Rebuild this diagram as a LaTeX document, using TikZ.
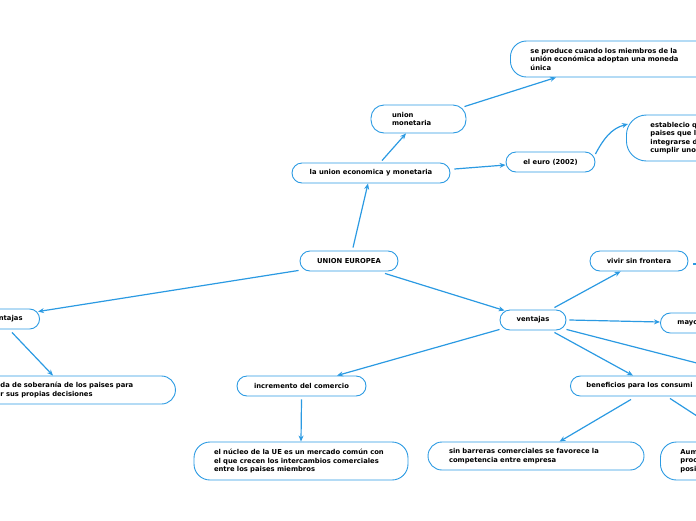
\documentclass[tikz,border=0pt]{standalone}
\usepackage{fontspec}
\setmainfont{DejaVu Sans}
\usetikzlibrary{arrows.meta}
\definecolor{lc}{HTML}{2B9AE2}
\tikzset{
 box/.style={draw=lc, line width=0.9pt, rounded corners=10pt, font=\fontsize{6.8}{8.5}\selectfont\bfseries, text=black, inner ysep=2pt, minimum height=20pt},
 tall/.style={box, rounded corners=16pt, align=left},
 conn/.style={draw=lc, line width=1.2pt, -{Stealth[length=6pt,width=5pt]}},
}
\begin{document}
\begin{tikzpicture}[x=1pt,y=-1pt]
\useasboundingbox (0,0) rectangle (696,520);
\clip (0,0) rectangle (696,520);
% nodes
\node[box, minimum width=98pt] (ue) at (349,261) {UNION EUROPEA};
\node[box, minimum width=158pt] (eco) at (371,173) {la union economica y monetaria};
\node[tall, rounded corners=13pt, minimum height=28pt, text width=53pt, inner xsep=21pt] (um) at (418.5,119) {union\\monetaria};
\node[tall, anchor=west, minimum height=36pt, text width=200pt, inner xsep=20pt] (sp) at (510,59) {se produce cuando los miembros de la\\unión económica adoptan una moneda\\única};
\node[box, minimum width=89pt] (euro) at (550.5,162) {el euro (2002)};
\node[tall, rounded corners=20pt, anchor=west, minimum height=46pt, text width=80pt, inner xsep=24pt] (est) at (626,138) {establecio q\\paises que l\\integrarse d\\cumplir uno};
\node[box, minimum width=98pt] (viv) at (639,261) {vivir sin frontera};
\node[box, minimum width=66pt] (ven) at (533,320) {ventajas};
\node[box, anchor=west, text width=60pt, align=left, inner xsep=17pt] (may) at (660,323) {mayo};
\node[box, anchor=west, text width=150pt, align=left, inner xsep=16pt] (ben) at (570,386) {beneficios para los consumi};
\node[tall, rounded corners=14pt, minimum height=28pt, text width=174pt, inner xsep=21pt] (sin) at (536,456) {sin barreras comerciales se favorece la\\competencia entre empresa};
\node[tall, anchor=west, minimum height=38pt, text width=60pt, inner xsep=20pt] (aum) at (660,461) {Aum\\proc\\posi};
\node[box, minimum width=129pt] (inc) at (301.5,386) {incremento del comercio};
\node[tall, minimum height=38pt, text width=174pt, inner xsep=20pt] (nuc) at (301,461) {el núcleo de la UE es un mercado común con\\el que crecen los intercambios comerciales\\entre los paises miembros};
\node[box, anchor=east, text width=40pt, align=right, inner xsep=17pt] (des) at (40,319) {ntajas};
\node[tall, rounded corners=14pt, anchor=west, minimum height=28pt, text width=155pt, inner xsep=20pt] (sob) at (-20,390) {da de soberanía de los paises para\\r sus propias decisiones};
% off-picture ends
\coordinate (off1) at (720,369);
\coordinate (off2) at (720,431);
\coordinate (off3) at (720,264);
% connectors
\draw[conn] ([xshift=4pt,yshift=3pt]ue.north) -- ([xshift=-3pt]eco.south);
\draw[conn] ([xshift=11pt,yshift=2pt]eco.north) -- ([xshift=-12.5pt]um.south);
\draw[conn] ([xshift=-2pt,yshift=-2pt]um.north east) -- ([xshift=46pt]sp.south west);
\draw[conn] ([xshift=4pt,yshift=4pt]eco.east) -- ([yshift=-3pt]euro.west);
\draw[conn] ([yshift=8pt]euro.east) to[out=62,in=195] ([xshift=2pt,yshift=14pt]est.west);
\draw[conn] ([xshift=-1pt,yshift=1pt]ue.south west) -- ([xshift=-2pt,yshift=-3pt]des.north east);
\draw[conn] ([xshift=36pt,yshift=-2pt]ue.south) -- ([xshift=5pt,yshift=-1pt]ven.north west);
\draw[conn] ([yshift=1pt]ven.south west) -- ([xshift=35.5pt]inc.north);
\draw[conn] ([yshift=-3pt]inc.south) -- (nuc.north);
\draw[conn] ([xshift=-28pt,yshift=-3pt]des.south east) -- ([xshift=73pt]sob.north west);
\draw[conn] ([xshift=-12pt,yshift=2pt]ven.north east) -- ([xshift=31pt]viv.south west);
\draw[conn] ([xshift=3pt]ven.east) -- ([yshift=1pt]may.west);
\draw[conn] ([yshift=1pt]ven.south east) -- (off1);
\draw[conn] ([xshift=-12pt,yshift=-2pt]ven.south east) -- ([xshift=63pt]ben.north west);
\draw[conn] ([xshift=61pt,yshift=-3pt]ben.south west) -- ([xshift=132pt]sin.north west);
\draw[conn] ([xshift=100pt,yshift=-2pt]ben.south west) -- (off2);
\draw[conn] ([xshift=5pt,yshift=-3pt]viv.east) -- (off3);
\end{tikzpicture}
\end{document}
